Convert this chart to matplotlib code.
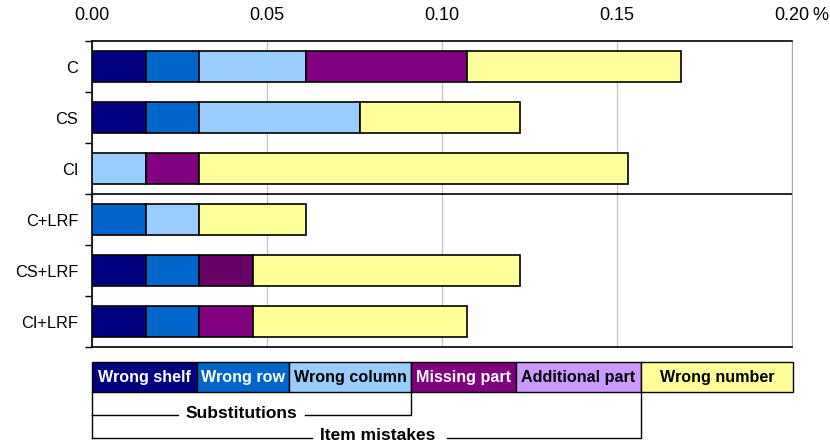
import matplotlib.pyplot as plt
from matplotlib.patches import Rectangle
from matplotlib.transforms import blended_transform_factory

plt.rcParams['font.family'] = ['Liberation Sans', 'DejaVu Sans']

# error rates in %, one unit ~ 0.0153 %
categories = ["C", "CS", "CI", "C+LRF", "CS+LRF", "CI+LRF"]
wrong_shelf = [0.0153, 0.0153, 0.0, 0.0, 0.0153, 0.0153]
wrong_row = [0.0153, 0.0153, 0.0, 0.0153, 0.0153, 0.0153]
wrong_column = [0.0306, 0.0459, 0.0153, 0.0153, 0.0, 0.0]
missing_part = [0.0459, 0.0, 0.0153, 0.0, 0.0153, 0.0153]
additional_part = [0.0, 0.0, 0.0, 0.0, 0.0, 0.0]
wrong_number = [0.0612, 0.0459, 0.1224, 0.0306, 0.0765, 0.0612]

series_names = ["Wrong shelf", "Wrong row", "Wrong column", "Missing part",
                "Additional part", "Wrong number"]
series = [wrong_shelf, wrong_row, wrong_column, missing_part,
          additional_part, wrong_number]
colors = ["#000080", "#0066CC", "#99CCFF", "#800080", "#CC99FF", "#FFFF99"]
text_colors = ["white", "white", "black", "white", "black", "black"]
xticks = [0.00, 0.05, 0.10, 0.15, 0.20]

fig = plt.figure(figsize=(8.3, 4.48), dpi=100)
W, H = 830, 448
ax = fig.add_axes([92 / W, 1 - 347 / H, 700 / W, 306 / H])

ypos = list(range(len(categories)))
left = [0.0] * len(categories)
for k, (name, vals) in enumerate(zip(series_names, series)):
    for i, v in enumerate(vals):
        if v <= 0:
            continue
        c = colors[k]
        if name == "Missing part" and categories[i] == "CS+LRF":
            c = "#660066"
        ax.barh(ypos[i], v, left=left[i], height=0.59, color=c,
                edgecolor="black", linewidth=1.2, zorder=3)
        left[i] += v

ax.set_xlim(0, 0.20)
ax.set_ylim(len(categories) - 0.5, -0.5)
ax.xaxis.tick_top()
ax.set_xticks(xticks)
ax.set_xticklabels([f"{t:.2f}" for t in xticks], fontsize=13)
ax.tick_params(axis="x", length=0, pad=12)
ax.set_yticks([y + 0.5 for y in [-1] + ypos])
ax.set_yticklabels([])
ax.set_yticks(ypos, minor=True)
ax.set_yticklabels(categories, minor=True, fontsize=11.8)
ax.tick_params(axis="y", which="major", length=5, width=1, direction="out")
ax.tick_params(axis="y", which="minor", length=0, pad=10)
ax.grid(axis="x", color="#C8C8C8", linewidth=1, zorder=0)
ax.set_axisbelow(True)
for s in ["top", "bottom", "left"]:
    ax.spines[s].set_linewidth(1.2)
ax.spines["right"].set_color("#A8A8A8")
ax.axhline(2.5, color="black", linewidth=1.2, zorder=2)

tr = blended_transform_factory(ax.transData, ax.transAxes)
ax.annotate("%", xy=(0.20, 1), xycoords=tr, xytext=(15, 12),
            textcoords="offset points", fontsize=13, ha="left", va="bottom")

# legend strip under the chart, in pixel units
lg = fig.add_axes([0, 0, 1, 1], zorder=5)
lg.set_xlim(0, W)
lg.set_ylim(H, 0)
lg.axis("off")
edges = [92, 197, 289, 411, 516, 641, 793]
for k, name in enumerate(series_names):
    x0, x1 = edges[k], edges[k + 1]
    lg.add_patch(Rectangle((x0, 362), x1 - x0, 30, facecolor=colors[k],
                           edgecolor="black", linewidth=1))
    lg.text((x0 + x1) / 2, 377.5, name, ha="center", va="center",
            fontsize=11.6, fontweight="bold", color=text_colors[k])

lk = dict(color="black", linewidth=1)
lg.plot([92, 92], [392, 438], **lk)
lg.plot([92, 178], [415, 415], **lk)
lg.plot([305, 411, 411], [415, 415, 392], **lk)
lg.text(241, 414, "Substitutions", ha="center", va="center",
        fontsize=12.5, fontweight="bold")
lg.plot([92, 312], [438, 438], **lk)
lg.plot([447, 641, 641], [438, 438, 392], **lk)
lg.text(378, 436, "Item mistakes", ha="center", va="center",
        fontsize=12.5, fontweight="bold")

fig.savefig("out.png", dpi=100)
